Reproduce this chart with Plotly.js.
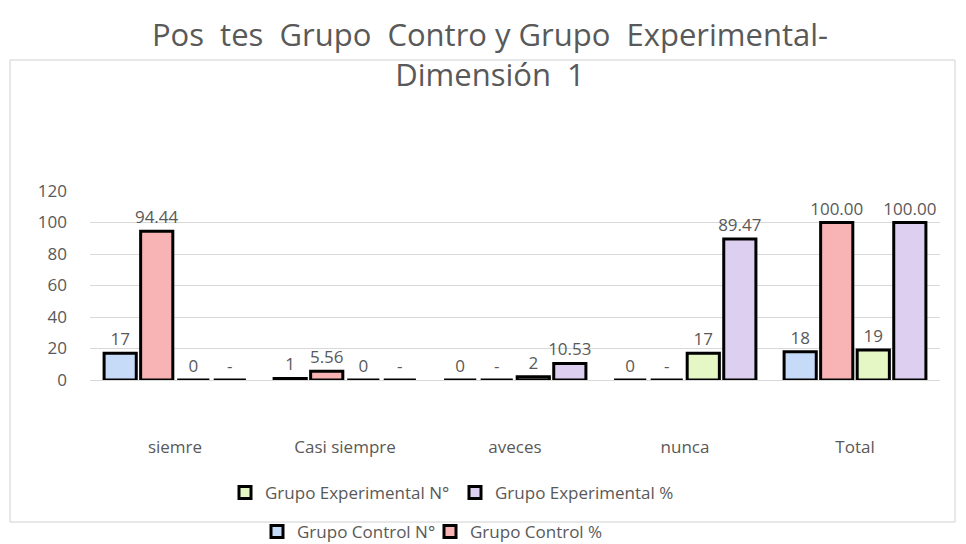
<!DOCTYPE html>
<html>
<head>
<meta charset="utf-8">
<script src="https://cdn.plot.ly/plotly-3.0.1.min.js"></script>
<style>html,body{margin:0;padding:0;background:#fff;}#chart{width:966px;height:544px;}</style>
</head>
<body>
<div id="chart"></div>
<script>
const categories = ["siemre", "Casi siempre", "aveces", "nunca", "Total"];
const controlN = [17, 1, 0, 0, 18];
const controlPct = [94.44, 5.56, 0, 0, 100.00];
const expN = [0, 0, 2, 17, 19];
const expPct = [0, 0, 10.53, 89.47, 100.00];
const seriesNames = ["Grupo Control N°", "Grupo Control %", "Grupo Experimental N°", "Grupo Experimental %"];
const yTicks = [0, 20, 40, 60, 80, 100, 120];

const fills = ["#c6dbf7", "#f8b4b4", "#e6f7c6", "#dccff0"];
const txtFont = {family: "Open Sans, Liberation Sans, sans-serif", size: 17, color: "#595959"};

function fmtN(v) { return String(v); }
function fmtPct(v) { return v === 0 ? "-" : v.toFixed(2); }

const data = [controlN, controlPct, expN, expPct].map((vals, i) => ({
  type: "bar",
  name: seriesNames[i],
  x: categories,
  y: vals,
  text: vals.map(i % 2 === 0 ? fmtN : fmtPct),
  textposition: "outside",
  textfont: txtFont,
  constraintext: "none",
  cliponaxis: false,
  marker: {color: fills[i], line: {color: "#000000", width: 3}},
  legend: i < 2 ? "legend" : "legend2",
  hoverinfo: "x+y+name"
}));

const plotL = 90, plotR = 940, plotT = 191, plotB = 380;
const pw = plotR - plotL, ph = plotB - plotT;
const px = v => (v - plotL) / pw;
const py = v => (plotB - v) / ph;

const layout = {
  width: 966, height: 544,
  margin: {l: plotL, r: 966 - plotR, t: plotT, b: 544 - plotB, autoexpand: false},
  paper_bgcolor: "#ffffff", plot_bgcolor: "#ffffff",
  font: txtFont,
  title: {
    text: "Pos  tes  Grupo  Contro y Grupo  Experimental-<br>Dimensión  1",
    font: {family: "Open Sans, Liberation Sans, sans-serif", size: 31, color: "#595959"},
    x: 490 / 966, xanchor: "center", xref: "container",
    y: 1 - 46 / 544, yanchor: "top", yref: "container"
  },
  barmode: "group",
  bargap: 0.14,
  bargroupgap: 0.12,
  xaxis: {
    type: "category",
    showgrid: false, zeroline: false,
    showline: true, linecolor: "#d9d9d9", linewidth: 1,
    ticks: "", ticklabelstandoff: 52,
    tickfont: txtFont
  },
  yaxis: {
    range: [0, 120],
    tickvals: yTicks,
    ticktext: yTicks.map(String),
    showgrid: true, gridcolor: "#d9d9d9", gridwidth: 1,
    zeroline: true, zerolinecolor: "#d9d9d9",
    showline: false, ticks: "", ticklabelstandoff: 22,
    tickfont: txtFont
  },
  legend: {
    orientation: "h", x: px(257), xanchor: "left", y: py(532), yanchor: "middle",
    entrywidth: 128, entrywidthmode: "pixels", font: txtFont, bgcolor: "rgba(0,0,0,0)",
    itemclick: false, itemdoubleclick: false
  },
  legend2: {
    orientation: "h", x: px(225), xanchor: "left", y: py(493), yanchor: "middle",
    entrywidth: 185, entrywidthmode: "pixels", font: txtFont, bgcolor: "rgba(0,0,0,0)",
    itemclick: false, itemdoubleclick: false
  },
  showlegend: true,
  shapes: [{
    type: "rect", xref: "paper", yref: "paper", layer: "below",
    x0: px(10), x1: px(955), y0: py(522), y1: py(60),
    line: {color: "#d0d0d0", width: 1}, fillcolor: "rgba(0,0,0,0)"
  }]
};

Plotly.newPlot("chart", data, layout, {displayModeBar: false, staticPlot: true});
</script>
</body>
</html>
